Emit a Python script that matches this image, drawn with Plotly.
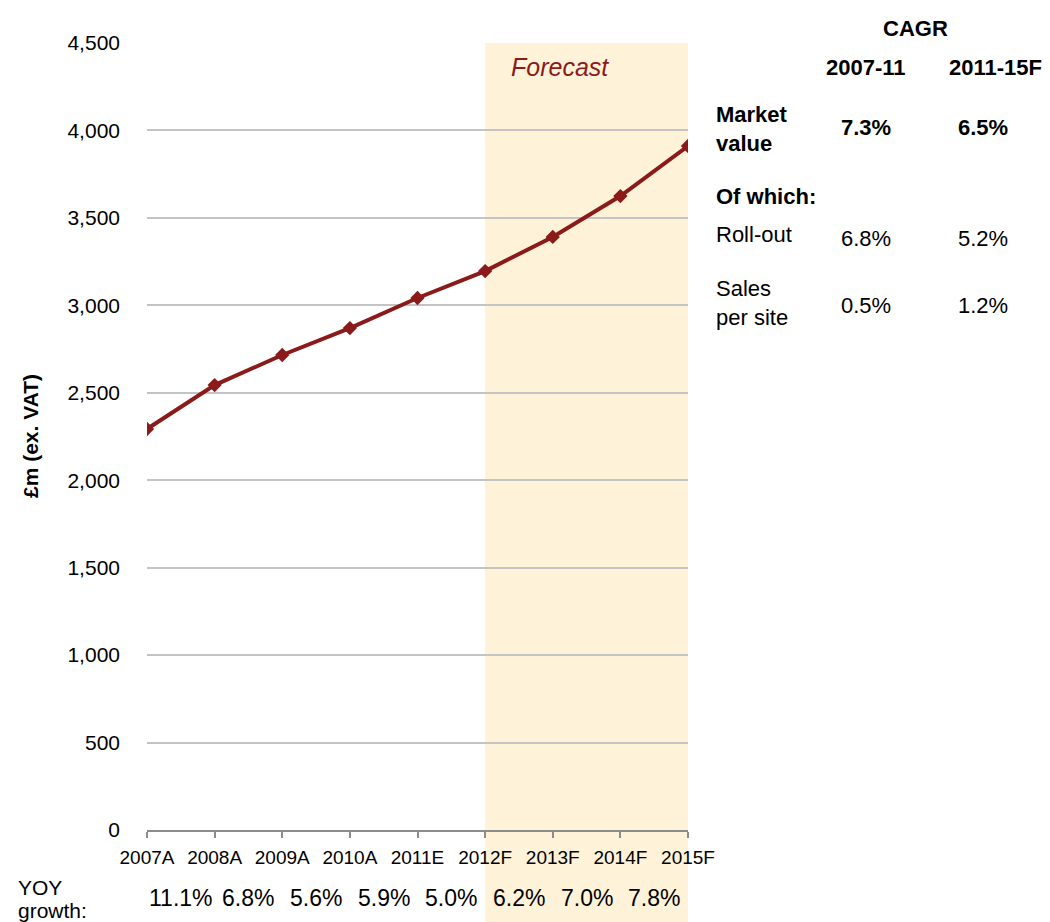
import plotly.graph_objects as go

# Market value series (£m, ex. VAT)
years = ["2007A", "2008A", "2009A", "2010A", "2011E", "2012F", "2013F", "2014F", "2015F"]
market_value = [2293, 2544, 2716, 2870, 3042, 3196, 3391, 3625, 3911]
yoy_growth = ["11.1%", "6.8%", "5.6%", "5.9%", "5.0%", "6.2%", "7.0%", "7.8%"]
forecast_start = "2012F"

# CAGR side table
cagr_periods = ["2007-11", "2011-15F"]
cagr_rows = [
    ("Market<br>value", ["7.3%", "6.5%"], True),
    ("Roll-out", ["6.8%", "5.2%"], False),
    ("Sales<br>per site", ["0.5%", "1.2%"], False),
]

W, H = 1050, 922
L, R, T, B = 147, 688, 43, 830
LINE = "#8B1A1A"
FONT = "Liberation Sans, Arial, sans-serif"


def px(x):
    return (x - L) / (R - L)


def py(y):
    return (B - y) / (B - T)


def label(text, x, y, size, xanchor="center", xref="paper", **kw):
    return dict(text=text, xref=xref, yref="paper", x=x, y=y, xanchor=xanchor,
                yanchor="middle", align=xanchor if xanchor != "center" else "center",
                showarrow=False, font=dict(size=size, color=kw.pop("color", "#000")), **kw)


fig = go.Figure()
fig.add_trace(go.Scatter(
    x=years, y=market_value, mode="lines+markers",
    line=dict(color=LINE, width=4),
    marker=dict(symbol="diamond", size=11, color=LINE),
    hoverinfo="x+y", showlegend=False,
))

# forecast band, running down through the growth row
fig.add_shape(type="rect", xref="x", yref="paper",
              x0=years.index(forecast_start), x1=len(years) - 1,
              y0=py(H), y1=1, fillcolor="#FEF2D8", line_width=0, layer="below")

ann = []
ann.append(label("<i>Forecast</i>", px(560), py(67), 25, color=LINE))
ann.append(label("<b>£m (ex. VAT)</b>", px(30), py(436), 21, textangle=-90))

# YOY growth row between consecutive years
ann.append(label("YOY", px(16), py(887), 21, xanchor="left"))
ann.append(label("growth:", px(16), py(910), 21, xanchor="left"))
for i, g in enumerate(yoy_growth):
    ann.append(label(g, i + 0.5, py(898), 23, xref="x"))

# CAGR table
c1, c2 = 866, 983
ann.append(label("<b>CAGR</b>", px(915), py(29), 22))
for cx, p in zip([866, 995], cagr_periods):
    ann.append(label(f"<b>{p}</b>", px(cx), py(68), 22))
ann.append(label("<b>Of which:</b>", px(714), py(197), 22, xanchor="left"))
row_y = [(129, 127), (234, 238), (303, 305)]
for (name, vals, bold), (ly, vy) in zip(cagr_rows, row_y):
    b0, b1 = ("<b>", "</b>") if bold else ("", "")
    ann.append(label(f"{b0}{name}{b1}", px(714), py(ly), 22, xanchor="left"))
    for cx, v in zip([c1, c2], vals):
        ann.append(label(f"{b0}{v}{b1}", px(cx), py(vy), 22))

fig.update_layout(
    width=W, height=H,
    margin=dict(l=L, r=W - R, t=T, b=H - B),
    paper_bgcolor="white", plot_bgcolor="rgba(0,0,0,0)",
    font=dict(family=FONT, color="#000"),
    annotations=ann,
    xaxis=dict(type="category", range=[0, len(years) - 1], showgrid=False,
               showline=True, linecolor="#8C8C8C", linewidth=1.5,
               ticks="outside", ticklen=6, tickcolor="#8C8C8C", tickwidth=1.5,
               tickfont=dict(size=19), ticklabelstandoff=3, fixedrange=True),
    yaxis=dict(range=[0, 4500], dtick=500, tickformat=",", showgrid=True,
               gridcolor="#C4C4C4", gridwidth=1.5, zeroline=False, showline=False,
               ticks="", tickfont=dict(size=21), ticklabelstandoff=26, fixedrange=True),
)

fig.write_html("out.html")
